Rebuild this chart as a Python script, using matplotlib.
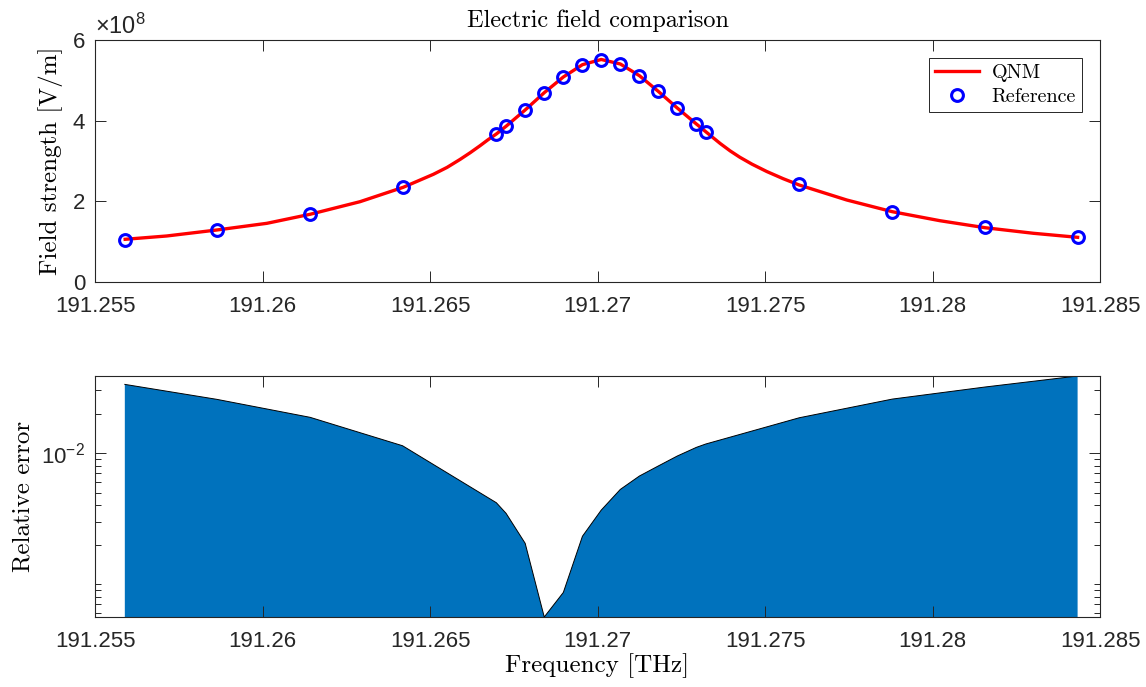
import numpy as np
import matplotlib
matplotlib.use("Agg")
import matplotlib.pyplot as plt
from matplotlib.ticker import FixedLocator, FuncFormatter

plt.rcParams['font.family'] = ['Liberation Sans', 'DejaVu Sans']
plt.rcParams['mathtext.fontset'] = 'custom'
plt.rcParams['mathtext.rm'] = 'Liberation Sans'
plt.rcParams['mathtext.it'] = 'Liberation Sans:italic'
plt.rcParams['axes.unicode_minus'] = False

# QNM curve (THz, field in 1e8 V/m)
qnm_freq = [191.25590, 191.25714, 191.25863, 191.26013, 191.26142, 191.26291,
            191.26420, 191.26510, 191.26551, 191.26590, 191.26620, 191.26649,
            191.26673, 191.26698, 191.26727, 191.26784, 191.26841, 191.26898,
            191.26955, 191.27011, 191.27068, 191.27125, 191.27181, 191.27238,
            191.27295, 191.27323, 191.27366, 191.27396, 191.27425, 191.27461,
            191.27505, 191.27554, 191.27602, 191.27744, 191.27880, 191.28022,
            191.28157, 191.28301, 191.28433]
qnm_field = [1.059, 1.141, 1.289, 1.455, 1.679, 1.991,
             2.348, 2.670, 2.842, 3.041, 3.206, 3.377,
             3.526, 3.670, 3.861, 4.265, 4.694, 5.083,
             5.388, 5.517, 5.405, 5.115, 4.729, 4.314,
             3.918, 3.727, 3.435, 3.250, 3.092, 2.922,
             2.740, 2.562, 2.405, 2.033, 1.743, 1.520,
             1.346, 1.208, 1.108]

# reference solution samples
ref_freq = [191.25589, 191.25863, 191.26142, 191.26418, 191.26698, 191.26727,
            191.26784, 191.26841, 191.26898, 191.26955, 191.27011, 191.27068,
            191.27125, 191.27181, 191.27238, 191.27295, 191.27323, 191.27602,
            191.27880, 191.28157, 191.28433]
ref_field = [1.033, 1.282, 1.679, 2.348, 3.662, 3.861,
             4.265, 4.694, 5.083, 5.388, 5.505, 5.405,
             5.115, 4.729, 4.314, 3.918, 3.727, 2.423,
             1.743, 1.364, 1.116]

# relative error at the reference frequencies
rel_err = [0.0334, 0.0257, 0.01873, 0.01137, 0.00418, 0.00347,
           0.00205, 0.000562, 0.000865, 0.00232, 0.00367, 0.00528,
           0.00668, 0.00796, 0.00949, 0.01105, 0.01172, 0.01858,
           0.0258, 0.0319, 0.0387]

xticks = [191.255, 191.26, 191.265, 191.27, 191.275, 191.28, 191.285]

axcol = (0.15, 0.15, 0.15)
cm = 'cmr10'

fig = plt.figure(figsize=(11.46, 6.87), dpi=100)
ax1 = fig.add_axes([0.0829, 0.5895, 0.8770, 0.3523])
ax2 = fig.add_axes([0.0829, 0.1019, 0.8770, 0.3508])


def style(ax):
    for s in ax.spines.values():
        s.set_color(axcol)
        s.set_linewidth(0.8)
    ax.tick_params(which='both', direction='in', top=True, right=True,
                   colors=axcol, labelsize=16, width=0.7)
    ax.tick_params(which='major', length=8, pad=7)
    ax.tick_params(axis='x', which='major', pad=10)
    ax.tick_params(which='minor', length=4.5)
    ax.set_xlim(191.255, 191.285)
    ax.xaxis.set_major_locator(FixedLocator(xticks))
    ax.xaxis.set_major_formatter(FuncFormatter(lambda v, p: '%g' % round(v, 3)))


# top panel
ax1.plot(qnm_freq, np.array(qnm_field) * 1e8, color='red', lw=2.4, label='QNM')
ax1.plot(ref_freq, np.array(ref_field) * 1e8, 'o', mfc='none', mec='blue',
         mew=2.2, ms=8.5, label='Reference')
style(ax1)
ax1.set_ylim(0, 6e8)
ax1.yaxis.set_major_locator(FixedLocator([0, 2e8, 4e8, 6e8]))
ax1.yaxis.set_major_formatter(FuncFormatter(lambda v, p: '%g' % (v / 1e8)))
ax1.text(0.0, 1.005, r'$\times10^{8}$', transform=ax1.transAxes, fontsize=17,
         color=axcol, ha='left', va='bottom')
ax1.set_ylabel('Field strength [V/m]', fontfamily=cm, fontsize=18, labelpad=7)
ax1.set_title('Electric field comparison', fontfamily=cm, fontsize=17.5, pad=9)
leg = ax1.legend(loc='upper right', prop={'family': cm, 'size': 14.5},
                 fancybox=False, framealpha=1, edgecolor=axcol,
                 borderaxespad=0.9, handlelength=2.2, handletextpad=0.6,
                 borderpad=0.3, labelspacing=0.3)
leg.get_frame().set_linewidth(0.7)

# bottom panel
err = np.array(rel_err)
ax2.set_yscale('log')
ax2.fill_between(ref_freq, 1e-8, err, facecolor='#0072BD', edgecolor='none')
ax2.plot(ref_freq, err, color='black', lw=0.7)
style(ax2)
ax2.set_ylim(err.min(), err.max())
ax2.yaxis.set_major_locator(FixedLocator([1e-2]))
ax2.yaxis.set_minor_locator(FixedLocator(
    [6e-4, 7e-4, 8e-4, 9e-4, 1e-3, 2e-3, 3e-3, 4e-3, 5e-3, 6e-3, 7e-3,
     8e-3, 9e-3, 2e-2, 3e-2]))
ax2.yaxis.set_major_formatter(FuncFormatter(lambda v, p: r'$10^{-2}$'))
ax2.yaxis.set_minor_formatter(FuncFormatter(lambda v, p: ''))
ax2.set_ylabel('Relative error', fontfamily=cm, fontsize=18, labelpad=5)
ax2.set_xlabel('Frequency [THz]', fontfamily=cm, fontsize=18, labelpad=1)

fig.savefig('out.png', dpi=100)
